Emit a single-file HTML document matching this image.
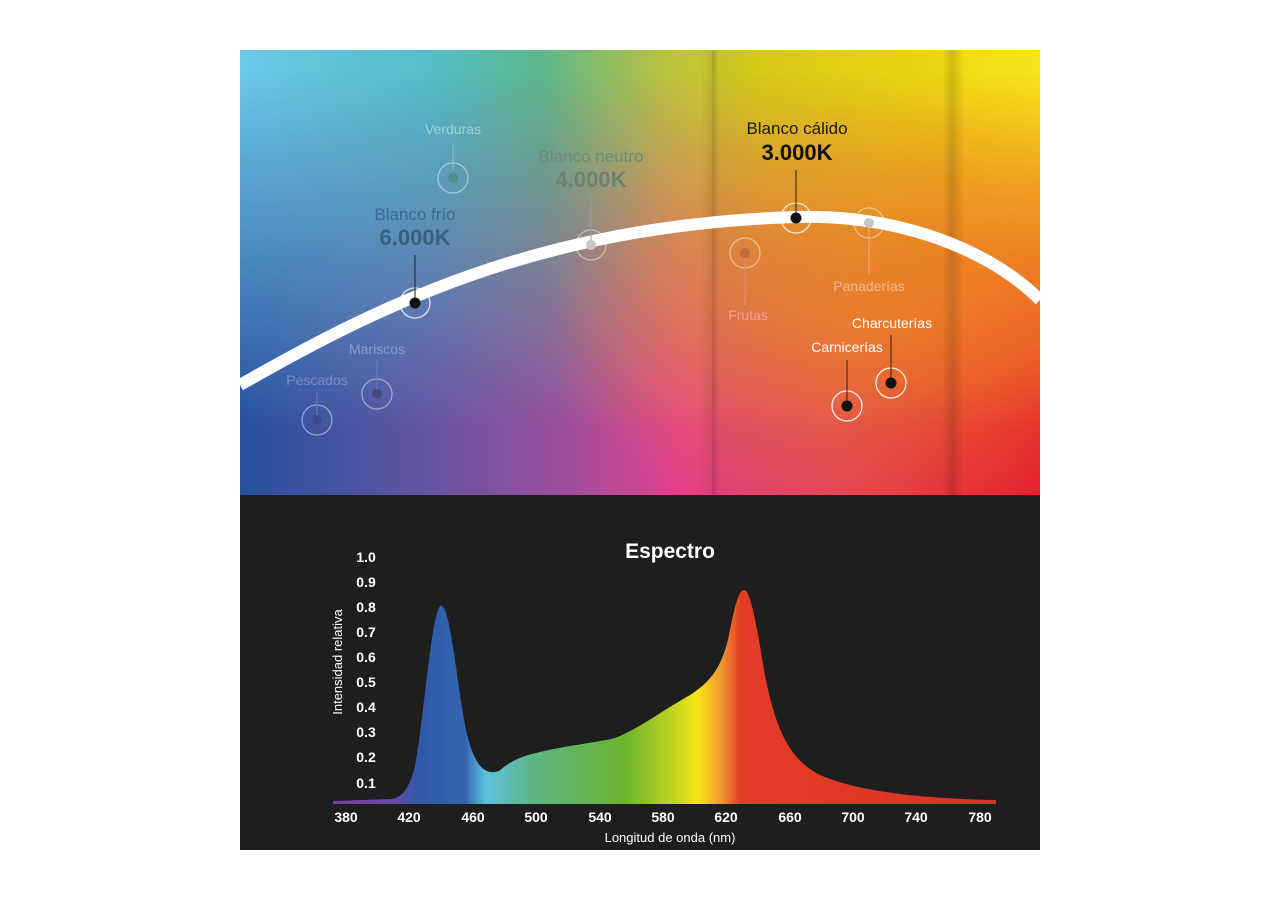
<!DOCTYPE html>
<html><head><meta charset="utf-8"><style>
body{margin:0;background:#fff;width:1280px;height:900px;position:relative;overflow:hidden;font-family:"Liberation Sans",sans-serif}
#top{position:absolute;left:240px;top:50px;width:800px;height:445px;overflow:hidden;background:linear-gradient(to right,#6cc8e8 0%,#55bcc4 25%,#5db88a 38%,#b8c240 53%,#dccf18 65%,#eed810 85%,#f7e41a 100%)}
#bot{position:absolute;left:0;top:0;width:800px;height:445px;background:linear-gradient(to right,#27509e 0%,#5a55a3 20%,#9a4f9e 40%,#e4408c 55%,#e8405e 75%,#e5283c 90%,#e21a30 100%);-webkit-mask-image:linear-gradient(to bottom,transparent 5%,rgba(0,0,0,.5) 45%,#000 85%);mask-image:linear-gradient(to bottom,transparent 5%,rgba(0,0,0,.5) 45%,#000 85%)}
#mid{position:absolute;left:0;top:0;width:800px;height:445px;background:radial-gradient(ellipse 340px 220px at 650px 270px,rgba(242,140,30,.65),transparent)}
#band{position:absolute;left:472px;top:0;width:240px;height:445px;background:linear-gradient(to right,rgba(0,0,0,.18),rgba(0,0,0,.03) 3%,rgba(0,0,0,.02) 96%,rgba(0,0,0,.15))}
#sh{position:absolute;left:712px;top:0;width:12px;height:445px;background:linear-gradient(to right,rgba(0,0,0,.15),transparent)}
#sh2{position:absolute;left:460px;top:0;width:12px;height:445px;background:linear-gradient(to left,rgba(0,0,0,.08),transparent)}
#dark{position:absolute;left:240px;top:495px;width:800px;height:355px;background:#1e1e1e}
svg{position:absolute;left:0;top:0}
</style></head><body>
<div id="top"><div id="bot"></div><div id="mid"></div><div id="band"></div><div id="sh"></div><div id="sh2"></div></div>
<div id="dark"></div>
<svg width="1280" height="900" font-family="Liberation Sans, sans-serif">
<defs>
<linearGradient id="sp" x1="333" x2="996" gradientUnits="userSpaceOnUse">
<stop offset="0" stop-color="#7a3e9a"/><stop offset=".09" stop-color="#6a48a8"/>
<stop offset=".13" stop-color="#2f58a8"/><stop offset=".2" stop-color="#3366b0"/>
<stop offset=".23" stop-color="#5bc3de"/><stop offset=".3" stop-color="#5cb686"/>
<stop offset=".44" stop-color="#6ab42e"/><stop offset=".52" stop-color="#c8d820"/>
<stop offset=".55" stop-color="#f8e614"/><stop offset=".585" stop-color="#f09a30"/>
<stop offset=".615" stop-color="#e43c26"/><stop offset="1" stop-color="#d83228"/>
</linearGradient>
</defs>
<path d="M240,385 C380,305 540,225 796,217 C900,214 990,250 1040,300" stroke="#fff" stroke-width="12" fill="none"/>
<g stroke="#fff" stroke-opacity=".45" fill="none" stroke-width="1.3">
<circle cx="453" cy="178" r="15"/><circle cx="591" cy="245" r="15"/><circle cx="415" cy="303" r="15" stroke-opacity=".8"/>
<circle cx="377" cy="394" r="15"/><circle cx="317" cy="420" r="15"/><circle cx="745" cy="253" r="15"/>
<circle cx="869" cy="223" r="15"/><circle cx="796" cy="218" r="15" stroke-opacity=".8"/>
<circle cx="847" cy="406" r="15" stroke-opacity=".9"/><circle cx="891" cy="383" r="15" stroke-opacity=".9"/>
</g>
<g stroke-width="1">
<line x1="453" y1="143" x2="453" y2="170" stroke="#9bb"/>
<line x1="591" y1="197" x2="591" y2="240" stroke="#999"/>
<line x1="415" y1="255" x2="415" y2="300" stroke="#222"/>
<line x1="377" y1="360" x2="377" y2="392" stroke="#6a7ab0"/>
<line x1="317" y1="392" x2="317" y2="418" stroke="#6a7ab0"/>
<line x1="745" y1="255" x2="745" y2="305" stroke="#d88"/>
<line x1="869" y1="225" x2="869" y2="274" stroke="#ea8"/>
<line x1="796" y1="170" x2="796" y2="215" stroke="#222"/>
<line x1="847" y1="360" x2="847" y2="404" stroke="#222"/>
<line x1="891" y1="335" x2="891" y2="381" stroke="#222"/>
</g>
<circle cx="453" cy="178" r="5" fill="#4f8f8f"/><circle cx="591" cy="245" r="5" fill="#c8c8c8"/>
<circle cx="415" cy="303" r="5.5" fill="#111"/><circle cx="377" cy="394" r="5" fill="#4a4a80"/>
<circle cx="317" cy="420" r="5" fill="#404a8a"/><circle cx="745" cy="253" r="5" fill="#c06a40"/>
<circle cx="869" cy="223" r="5" fill="#c8c8c8"/><circle cx="796" cy="218" r="5.5" fill="#111"/>
<circle cx="847" cy="406" r="5.5" fill="#111"/><circle cx="891" cy="383" r="5.5" fill="#111"/>
<g font-size="14" text-anchor="middle">
<text x="453" y="134" fill="#9fd0d0">Verduras</text>
<text x="591" y="162" fill="#6d8a7a" font-size="17">Blanco neutro</text>
<text x="591" y="187" fill="#6f8070" font-size="22" font-weight="bold">4.000K</text>
<text x="415" y="220" fill="#3d6a90" font-size="17">Blanco frío</text>
<text x="415" y="245" fill="#3a6080" font-size="22" font-weight="bold">6.000K</text>
<text x="377" y="354" fill="#8a9ad0">Mariscos</text>
<text x="317" y="385" fill="#7a8ac8">Pescados</text>
<text x="797" y="134" fill="#1a1a1a" font-size="17">Blanco cálido</text>
<text x="797" y="160" fill="#111" font-size="22" font-weight="bold">3.000K</text>
<text x="748" y="320" fill="#f0a0a0">Frutas</text>
<text x="869" y="291" fill="#f8b890">Panaderías</text>
<text x="892" y="328" fill="#fff">Charcuterías</text>
<text x="847" y="352" fill="#fff">Carnicerías</text>
</g>
<text x="670" y="558" fill="#fff" font-size="21" font-weight="bold" text-anchor="middle">Espectro</text>
<g fill="#fff" font-size="14" font-weight="bold" text-anchor="middle">
<text x="366" y="562">1.0</text><text x="366" y="587">0.9</text><text x="366" y="612">0.8</text>
<text x="366" y="637">0.7</text><text x="366" y="662">0.6</text><text x="366" y="687">0.5</text>
<text x="366" y="712">0.4</text><text x="366" y="737">0.3</text><text x="366" y="762">0.2</text>
<text x="366" y="788">0.1</text>
<text x="346" y="822">380</text><text x="409" y="822">420</text><text x="473" y="822">460</text>
<text x="536" y="822">500</text><text x="600" y="822">540</text><text x="663" y="822">580</text>
<text x="726" y="822">620</text><text x="790" y="822">660</text><text x="853" y="822">700</text>
<text x="916" y="822">740</text><text x="980" y="822">780</text>
</g>
<text x="670" y="842" fill="#fff" font-size="13" text-anchor="middle">Longitud de onda (nm)</text>
<text transform="translate(342,662) rotate(-90)" fill="#fff" font-size="13" text-anchor="middle">Intensidad relativa</text>
<path fill="url(#sp)" d="M333,801 L392,799 C402,797 408,790 414,770 C422,740 430,620 440,606 C450,600 456,680 466,730 C474,765 484,776 499,771 C512,760 522,756 540,752 C570,745 600,742 615,738 C640,728 660,712 690,695 C710,682 720,670 728,640 C734,610 738,590 744,590 C750,590 756,620 764,670 C775,730 790,760 820,775 C850,788 900,798 996,800 L996,804 L333,804 Z"/>
</svg>
</body></html>
